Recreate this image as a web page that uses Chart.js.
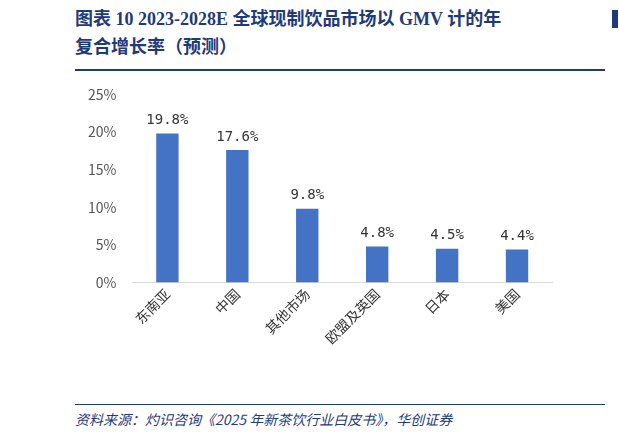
<!DOCTYPE html>
<html lang="zh">
<head>
<meta charset="UTF-8">
<script src="https://cdn.jsdelivr.net/npm/chart.js"></script>
<style>
  body { margin: 0; width: 619px; height: 443px; background: #fff; position: relative; overflow: hidden; font-family: "Noto Sans CJK SC", sans-serif; }
  #title { position: absolute; left: 75px; top: 5px; width: 540px; color: #1f3a7a; font-weight: bold; font-size: 18px; line-height: 28px; font-family: "Liberation Serif", "Noto Sans CJK SC", serif; }
  #topline { position: absolute; left: 75px; top: 69px; width: 530px; border-top: 2px solid #1f3a7a; }
  #botline { position: absolute; left: 75px; top: 404px; width: 530px; border-top: 1px solid #1f3a7a; }
  #source { position: absolute; left: 75px; top: 409px; font-size: 14px; font-style: italic; color: #1f3a7a; }
  #wrap { position: absolute; left: 80px; top: 78px; width: 520px; height: 272px; }
  #edge { position: absolute; left: 612px; top: 10px; width: 6px; height: 18px; background: #1f3a7a; }
</style>
</head>
<body>
<div id="title">图表 10 2023-2028E 全球现制饮品市场以 GMV 计的年<br>复合增长率（预测）</div>
<div id="edge"></div>
<div id="topline"></div>
<div id="wrap"><canvas id="myChart"></canvas></div>
<div id="botline"></div>
<div id="source">资料来源：灼识咨询《2025 年新茶饮行业白皮书》，华创证券</div>
<script>
    const categories = ['东南亚', '中国', '其他市场', '欧盟及英国', '日本', '美国'];
    const cagrValues = [19.8, 17.6, 9.8, 4.8, 4.5, 4.4];
    const yTicks = [0, 5, 10, 15, 20, 25];

    const valueLabels = {
        id: 'valueLabels',
        afterDatasetsDraw(chart) {
            const ctx = chart.ctx;
            const meta = chart.getDatasetMeta(0);
            ctx.save();
            ctx.fillStyle = '#333';
            ctx.font = '14px "DejaVu Sans Mono", monospace';
            ctx.textAlign = 'center';
            ctx.textBaseline = 'bottom';
            meta.data.forEach((bar, i) => {
                ctx.fillText(cagrValues[i].toFixed(1) + '%', bar.x, bar.y - 6);
            });
            ctx.restore();
        }
    };

    new Chart(document.getElementById('myChart'), {
        type: 'bar',
        data: {
            labels: categories,
            datasets: [{
                data: cagrValues,
                backgroundColor: '#4472c4',
                barPercentage: 0.32,
                categoryPercentage: 1
            }]
        },
        options: {
            responsive: true,
            maintainAspectRatio: false,
            animation: false,
            layout: { padding: { top: 10, right: 48 } },
            plugins: { legend: { display: false }, tooltip: { enabled: false } },
            scales: {
                y: {
                    min: 0, max: 25,
                    afterBuildTicks: (axis) => { axis.ticks = yTicks.map(v => ({ value: v })); },
                    ticks: { callback: v => v + '%', color: '#555', font: { size: 14, family: 'Noto Sans CJK SC' }, padding: 8 },
                    grid: { display: false },
                    border: { display: false }
                },
                x: {
                    ticks: { color: '#333', font: { size: 14, family: 'Noto Sans CJK SC' }, maxRotation: 45, minRotation: 45 },
                    grid: { display: false, drawTicks: false },
                    border: { color: '#d9d9d9' }
                }
            }
        },
        plugins: [valueLabels]
    });
</script>
</body>
</html>
